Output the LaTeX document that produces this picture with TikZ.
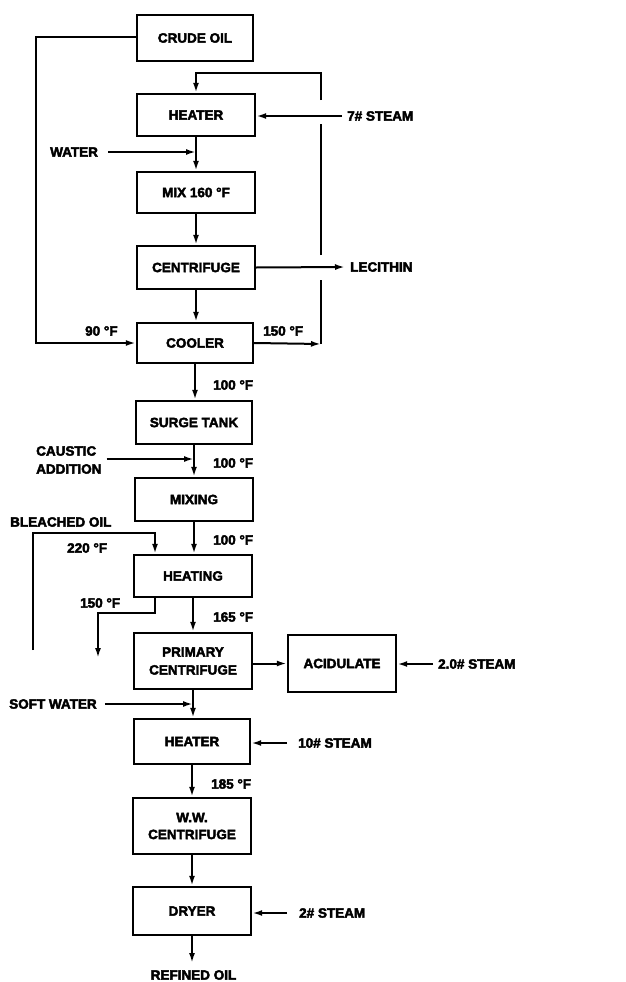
\documentclass[tikz,border=0pt]{standalone}
\usepackage{fontspec}
\setmainfont{Liberation Sans}[BoldFeatures={FakeBold=3}]
\usetikzlibrary{arrows.meta}
\begin{document}
\begin{tikzpicture}[x=1pt,y=-1pt,
  txt/.style={font=\bfseries\fontsize{13.5}{18}\selectfont},
  box/.style={txt,draw,line width=2.4pt,inner sep=0pt,align=center},
  lbl/.style={txt,inner sep=0pt,anchor=west,align=left},
  ln/.style={line width=2pt},
  flow/.style={ln,-{Latex[length=10pt,width=6pt]}}]
\useasboundingbox (0,0) rectangle (626,982);
% boxes
\node[box,minimum width=116pt,minimum height=46pt] (crude) at (195,38) {CRUDE OIL};
\node[box,minimum width=118pt,minimum height=42pt] (heater1) at (196,115) {HEATER};
\node[box,minimum width=118pt,minimum height=41pt] (mix) at (196,192.5) {MIX 160 °F};
\node[box,minimum width=118pt,minimum height=43pt] (cent) at (196,267.5) {CENTRIFUGE};
\node[box,minimum width=116pt,minimum height=40pt] (cooler) at (195,343) {COOLER};
\node[box,minimum width=116pt,minimum height=43pt] (surge) at (194,422.5) {SURGE TANK};
\node[box,minimum width=118pt,minimum height=43pt] (mixing) at (194,499.5) {MIXING};
\node[box,minimum width=118pt,minimum height=42pt] (heating) at (193,576) {HEATING};
\node[box,minimum width=118pt,minimum height=56pt] (primary) at (193,661) {PRIMARY\\CENTRIFUGE};
\node[box,minimum width=108pt,minimum height=57pt] (acid) at (342,663.5) {ACIDULATE};
\node[box,minimum width=116pt,minimum height=45pt] (heater2) at (192,741.5) {HEATER};
\node[box,minimum width=118pt,minimum height=56pt] (ww) at (192,826) {W.W.\\[-1pt]CENTRIFUGE};
\node[box,minimum width=118pt,minimum height=48pt] (dryer) at (192,911) {DRYER};
% labels
\node[lbl] (steam7) at (347,116) {7\# STEAM};
\node[lbl] (water) at (50,152) {WATER};
\node[lbl] (lecithin) at (350,267) {LECITHIN};
\node[lbl] (t90) at (85,331) {90 °F};
\node[lbl] (t150a) at (263,331) {150 °F};
\node[lbl] (t100a) at (213,385) {100 °F};
\node[lbl] (caustic) at (36,460) {CAUSTIC\\ADDITION};
\node[lbl] (t100b) at (213,463) {100 °F};
\node[lbl] (bleached) at (10,522) {BLEACHED OIL};
\node[lbl] (t100c) at (213,540) {100 °F};
\node[lbl] (t220) at (67,548) {220 °F};
\node[lbl] (t150b) at (80,603) {150 °F};
\node[lbl] (t165) at (213,617) {165 °F};
\node[lbl] (steam20) at (438,664) {2.0\# STEAM};
\node[lbl] (soft) at (9,704) {SOFT WATER};
\node[lbl] (steam10) at (298,743) {10\# STEAM};
\node[lbl] (t185) at (211,784) {185 °F};
\node[lbl] (steam2) at (299,913) {2\# STEAM};
\node[txt,inner sep=0pt] (refined) at (193.5,975) {REFINED OIL};
% coordinates
\coordinate (lc) at (36,37);
\coordinate (r1) at (321,344);
\coordinate (r2) at (321,280);
\coordinate (r3) at (321,255);
\coordinate (r4) at (321,124);
\coordinate (r5) at (321,100);
\coordinate (r6) at (321,73);
\coordinate (bl) at (33,650);
\coordinate (bt) at (33,533);
\coordinate (hb) at (155,597);
\coordinate (hk) at (155,613);
\coordinate (hl) at (98,613);
\coordinate (he) at (98,658);
\coordinate (ro) at (192,963);
% connectors
\draw[flow] (crude.west |- lc) -- (lc) -- (lc |- cooler.west) -- (cooler.west);
\draw[flow] (cooler.east) -- (r1);
\draw[ln] (r1) -- (r2);
\draw[ln] (r3) -- (r4);
\draw[flow] (r5) -- (r6) -- (r6 -| heater1.north) -- (heater1.north);
\draw[flow] ([xshift=-5pt]steam7.west) -- (steam7.west -| heater1.east);
\draw[flow] ([xshift=10pt]water.east) -- (water.east -| heater1.south);
\draw[flow] (heater1.south) -- (heater1.south |- mix.north);
\draw[flow] (mix.south) -- (mix.south |- cent.north);
\draw[flow] (cent.south) -- (cent.south |- cooler.north);
\draw[flow] (cent.east) -- ([xshift=-5pt]lecithin.west);
\draw[flow] (cooler.south) -- (cooler.south |- surge.north);
\draw[flow] (surge.south) -- (surge.south |- mixing.north);
\draw[flow] ([xshift=5pt]caustic.east |- 0,459) -- (surge.south |- 0,459);
\draw[flow] (mixing.south) -- (mixing.south |- heating.north);
\draw[flow] (bl) -- (bt) -- (bt -| hb) -- (hb |- heating.north);
\draw[flow] (hb) -- (hk) -- (hl) -- (he);
\draw[flow] (heating.south) -- (heating.south |- primary.north);
\draw[flow] (primary.east |- acid.west) -- (acid.west);
\draw[flow] ([xshift=-5pt]steam20.west) -- (steam20.west -| acid.east);
\draw[flow] ([xshift=8pt]soft.east) -- (soft.east -| primary.south);
\draw[flow] (primary.south) -- (primary.south |- heater2.north);
\draw[flow] ([xshift=-11pt]steam10.west) -- (steam10.west -| heater2.east);
\draw[flow] (heater2.south) -- (heater2.south |- ww.north);
\draw[flow] (ww.south) -- (ww.south |- dryer.north);
\draw[flow] ([xshift=-12pt]steam2.west) -- (steam2.west -| dryer.east);
\draw[flow] (dryer.south) -- (ro);
\end{tikzpicture}
\end{document}
